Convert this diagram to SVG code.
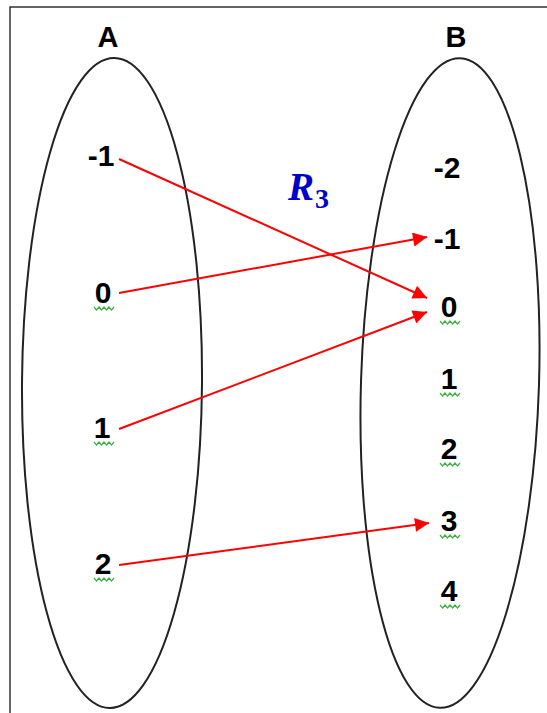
<svg xmlns="http://www.w3.org/2000/svg" width="547" height="713" viewBox="0 0 547 713">
<style>
.frame{stroke:#333;stroke-width:1.5;fill:none}
.set{fill:none;stroke:#222;stroke-width:2}
.lbl{font-family:"Liberation Sans",Arial,sans-serif;font-weight:bold;font-size:29px;fill:#000;text-anchor:middle}
.num{font-family:"Liberation Sans",Arial,sans-serif;font-weight:bold;font-size:30px;fill:#000;text-anchor:middle}
.sq{fill:none;stroke:#3cb043;stroke-width:1.2}
.arr{stroke:#ff0000;stroke-width:2;fill:none;marker-end:url(#ah)}
.rel{font-family:"Liberation Serif","Times New Roman",serif;font-weight:bold;font-style:italic;fill:#0000cc}
</style>
<defs>
<marker id="ah" viewBox="0 0 10 10" refX="10" refY="5" markerWidth="9" markerHeight="7" markerUnits="strokeWidth" orient="auto">
<path d="M0,0 L10,5 L0,10 z" fill="#ff0000"/>
</marker>
<path id="squig" d="M0,0 l2.5,3 l2.5,-3 l2.5,3 l2.5,-3 l2.5,3 l2.5,-3 l2.5,3 l2.5,-3" class="sq"/>
</defs>
<rect width="547" height="713" fill="#fff"/>
<path class="frame" d="M10,713 V7 H547"/>

<g id="setA">
<ellipse class="set" cx="112" cy="383" rx="90" ry="325" transform="rotate(0.4 112 383)"/>
<text class="lbl" x="108" y="47">A</text>
</g>
<g id="setB">
<ellipse class="set" cx="450" cy="383" rx="89" ry="325" transform="rotate(1.8 450 383)"/>
<text class="lbl" x="456" y="47">B</text>
</g>

<g id="a-1"><text class="num" x="101" y="166">-1</text></g>
<g id="a0"><text class="num" x="103" y="303">0</text><use href="#squig" x="94" y="307"/></g>
<g id="a1"><text class="num" x="102" y="438">1</text><use href="#squig" x="94" y="442"/></g>
<g id="a2"><text class="num" x="103" y="574">2</text><use href="#squig" x="94" y="578"/></g>

<g id="b-2"><text class="num" x="447" y="178">-2</text></g>
<g id="b-1"><text class="num" x="447" y="249">-1</text></g>
<g id="b0"><text class="num" x="449" y="317">0</text><use href="#squig" x="440" y="321"/></g>
<g id="b1"><text class="num" x="449" y="389">1</text><use href="#squig" x="440" y="393"/></g>
<g id="b2"><text class="num" x="449" y="459">2</text><use href="#squig" x="440" y="463"/></g>
<g id="b3"><text class="num" x="449" y="531">3</text><use href="#squig" x="440" y="535"/></g>
<g id="b4"><text class="num" x="449" y="601">4</text><use href="#squig" x="440" y="605"/></g>

<g id="relation-label">
<text class="rel" x="288" y="200" font-size="39">R<tspan font-size="28" font-style="normal" dx="1" dy="8">3</tspan></text>
</g>

<g id="connectors">
<line class="arr" x1="119" y1="159" x2="427" y2="298"/>
<line class="arr" x1="119" y1="293" x2="427" y2="237"/>
<line class="arr" x1="119" y1="429" x2="427" y2="312"/>
<line class="arr" x1="119" y1="565" x2="429" y2="523"/>
</g>
</svg>
